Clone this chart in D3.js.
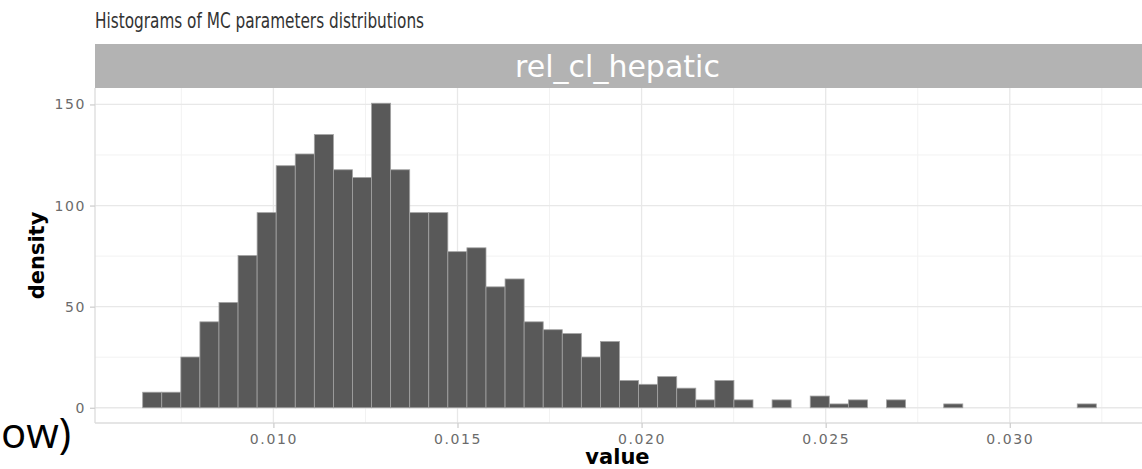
<!DOCTYPE html>
<html>
<head>
<meta charset="utf-8">
<script src="https://cdn.jsdelivr.net/npm/d3@7"></script>
<style>
  body { margin: 0; background: #fff; }
  svg text { font-family: "DejaVu Sans", sans-serif; }
</style>
</head>
<body>
<svg id="chart" width="1142" height="469"></svg>
<script>
// histogram of rel_cl_hepatic, 50 bins, density
var binStart = 0.00645;
var binWidth = 0.000518;
var density = [7.7, 7.7, 25.1, 42.5, 52.1, 75.3, 96.5, 119.7, 125.5, 135.1,
               117.7, 113.9, 150.6, 117.7, 96.5, 96.5, 77.2, 79.1, 59.8, 63.7,
               42.5, 38.6, 36.7, 25.1, 32.8, 13.5, 11.6, 15.4, 9.7, 3.9,
               13.5, 3.9, 0, 3.9, 0, 5.8, 1.9, 3.9, 0, 3.9,
               0, 0, 1.9, 0, 0, 0, 0, 0, 0, 1.9];
var xTicks = [0.010, 0.015, 0.020, 0.025, 0.030];
var xMinor = [0.0075, 0.0125, 0.0175, 0.0225, 0.0275, 0.0325];
var yTicks = [0, 50, 100, 150];
var yMinor = [25, 75, 125];
var facetLabel = "rel_cl_hepatic";
var title = "Histograms of MC parameters distributions";

var svg = d3.select("#chart");
var panel = {left: 95, right: 1144, top: 88, bottom: 423};
var stripTop = 44;

var bins = density.map(function(d, i) {
	return {x0: binStart + i * binWidth, x1: binStart + (i + 1) * binWidth, y: d};
});

// ggplot style 5% expansion
var xLo = bins[0].x0, xHi = bins[bins.length - 1].x1;
var xPad = (xHi - xLo) * 0.05;
var yMax = d3.max(density);
var x = d3.scaleLinear()
	.domain([xLo - xPad, xHi + xPad])
	.range([panel.left, panel.right]);
var y = d3.scaleLinear()
	.domain([-yMax * 0.05, yMax * 1.05])
	.range([panel.bottom, panel.top]);

// grid
var grid = svg.append("g");
grid.selectAll(".ymin").data(yMinor).enter().append("line")
	.attr("x1", panel.left).attr("x2", panel.right)
	.attr("y1", function(d) { return y(d); }).attr("y2", function(d) { return y(d); })
	.attr("stroke", "#f2f2f2").attr("stroke-width", 1);
grid.selectAll(".xmin").data(xMinor).enter().append("line")
	.attr("y1", panel.top).attr("y2", panel.bottom)
	.attr("x1", function(d) { return x(d); }).attr("x2", function(d) { return x(d); })
	.attr("stroke", "#f2f2f2").attr("stroke-width", 1);
grid.selectAll(".ymaj").data(yTicks).enter().append("line")
	.attr("x1", panel.left).attr("x2", panel.right)
	.attr("y1", function(d) { return y(d); }).attr("y2", function(d) { return y(d); })
	.attr("stroke", "#e8e8e8").attr("stroke-width", 1.3);
grid.selectAll(".xmaj").data(xTicks).enter().append("line")
	.attr("y1", panel.top).attr("y2", panel.bottom)
	.attr("x1", function(d) { return x(d); }).attr("x2", function(d) { return x(d); })
	.attr("stroke", "#e8e8e8").attr("stroke-width", 1.3);

// bars
svg.append("g").selectAll("rect")
	.data(bins.filter(function(b) { return b.y > 0; }))
	.enter().append("rect")
	.attr("x", function(d) { return x(d.x0); })
	.attr("width", function(d) { return x(d.x1) - x(d.x0); })
	.attr("y", function(d) { return y(d.y); })
	.attr("height", function(d) { return y(0) - y(d.y); })
	.attr("fill", "#595959")
	.attr("stroke", "#a3a3a3")
	.attr("stroke-width", 0.8);

// panel border (left + bottom visible)
svg.append("line").attr("x1", panel.left).attr("x2", panel.left)
	.attr("y1", panel.top).attr("y2", panel.bottom)
	.attr("stroke", "#dcdcdc").attr("stroke-width", 1.3);
svg.append("line").attr("x1", panel.left).attr("x2", panel.right)
	.attr("y1", panel.bottom).attr("y2", panel.bottom)
	.attr("stroke", "#dcdcdc").attr("stroke-width", 1.3);

// axes
var xAxis = d3.axisBottom(x).tickValues(xTicks).tickSize(5).tickPadding(6)
	.tickFormat(d3.format(".3f"));
var gx = svg.append("g").attr("transform", "translate(0," + panel.bottom + ")").call(xAxis);
var yAxis = d3.axisLeft(y).tickValues(yTicks).tickSize(5).tickPadding(4);
var gy = svg.append("g").attr("transform", "translate(" + panel.left + ",0)").call(yAxis);
[gx, gy].forEach(function(g) {
	g.select(".domain").remove();
	g.selectAll(".tick line").attr("stroke", "#cfcfcf").attr("stroke-width", 1.3);
	g.selectAll(".tick text")
		.attr("fill", "#6b6b6b")
		.style("font-family", "DejaVu Sans")
		.style("font-size", "14px")
		.style("letter-spacing", "1.6px");
});

// strip
svg.append("rect")
	.attr("x", panel.left).attr("y", stripTop)
	.attr("width", panel.right - panel.left).attr("height", panel.top - stripTop)
	.attr("fill", "#b3b3b3");
svg.append("text")
	.attr("x", (panel.left + 1140) / 2).attr("y", 77)
	.attr("text-anchor", "middle")
	.attr("fill", "#ffffff")
	.style("font-size", "30px")
	.text(facetLabel);

// titles
svg.append("text")
	.attr("transform", "translate(" + panel.left + ",28) scale(1,1.25)")
	.attr("fill", "#333333")
	.style("font-family", "DejaVu Sans Condensed")
	.style("font-stretch", "condensed")
	.style("font-size", "17px")
	.text(title);
svg.append("text")
	.attr("x", (panel.left + 1140) / 2).attr("y", 464)
	.attr("text-anchor", "middle")
	.style("font-size", "21px").style("font-weight", "bold")
	.text("value");
svg.append("text")
	.attr("transform", "translate(44," + ((panel.top + panel.bottom) / 2) + ") rotate(-90)")
	.attr("text-anchor", "middle")
	.style("font-size", "21px").style("font-weight", "bold")
	.text("density");

// leftover text from the surrounding slide
svg.append("text")
	.attr("x", 1).attr("y", 448)
	.style("font-family", "Open Sans")
	.style("font-size", "42px")
	.text("ow)");
</script>
</body>
</html>
